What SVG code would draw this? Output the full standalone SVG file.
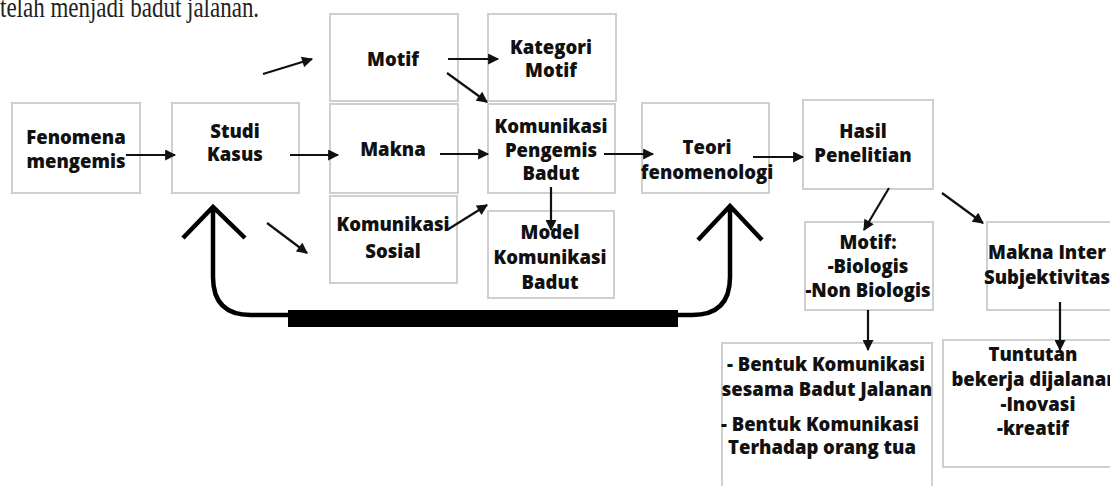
<svg xmlns="http://www.w3.org/2000/svg" width="1110" height="486" viewBox="0 0 1110 486">
  <style>
    .box { fill: #ffffff; stroke: #cfcfcf; stroke-width: 2; }
    .lbl { font-family: "Open Sans", "Liberation Sans", sans-serif; font-weight: 800; font-size: 18.5px; fill: #111; text-anchor: middle; }
    .conn { stroke: #111; stroke-width: 2.2; fill: none; marker-end: url(#ah); }
    .big { stroke: #000; stroke-width: 4.5; fill: none; stroke-linejoin: miter; }
    .head { font-family: "Liberation Serif", "Times New Roman", serif; font-size: 23px; fill: #222; }
  </style>
  <defs>
    <marker id="ah" viewBox="0 0 10 10" refX="9" refY="5" markerWidth="5.5" markerHeight="5" orient="auto" markerUnits="strokeWidth">
      <path d="M0,0 L10,5 L0,10 Z" fill="#111"/>
    </marker>
  </defs>
  <rect width="1110" height="486" fill="#ffffff"/>
  <text class="head" transform="translate(0,17) scale(1,1.3)" x="0" y="0">telah menjadi badut jalanan.</text>

  <g id="fenomena"><rect class="box" x="12" y="103" width="128" height="90"/>
    <text class="lbl" x="76" y="144">Fenomena</text><text class="lbl" x="76" y="168">mengemis</text></g>
  <g id="studi"><rect class="box" x="172" y="103" width="127" height="90"/>
    <text class="lbl" x="235" y="138">Studi</text><text class="lbl" x="235" y="161">Kasus</text></g>
  <g id="motif"><rect class="box" x="330" y="14" width="128" height="87"/>
    <text class="lbl" x="393" y="66">Motif</text></g>
  <g id="makna"><rect class="box" x="330" y="104" width="128" height="89"/>
    <text class="lbl" x="393" y="156">Makna</text></g>
  <g id="komsosial"><rect class="box" x="330" y="196" width="127" height="87"/>
    <text class="lbl" x="393" y="231">Komunikasi</text><text class="lbl" x="393" y="258">Sosial</text></g>
  <g id="kategori"><rect class="box" x="488" y="14" width="128" height="87"/>
    <text class="lbl" x="551" y="54">Kategori</text><text class="lbl" x="551" y="77">Motif</text></g>
  <g id="kpb"><rect class="box" x="488" y="104" width="127" height="89"/>
    <text class="lbl" x="551" y="133">Komunikasi</text><text class="lbl" x="551" y="157">Pengemis</text><text class="lbl" x="551" y="180">Badut</text></g>
  <g id="model"><rect class="box" x="488" y="211" width="126" height="87"/>
    <text class="lbl" x="550" y="239">Model</text><text class="lbl" x="550" y="264">Komunikasi</text><text class="lbl" x="550" y="289">Badut</text></g>
  <g id="teori"><rect class="box" x="642" y="103" width="127" height="90"/>
    <text class="lbl" x="707" y="154">Teori</text><text class="lbl" x="707" y="179">fenomenologi</text></g>
  <g id="hasil"><rect class="box" x="803" y="100" width="130" height="89"/>
    <text class="lbl" x="863" y="138">Hasil</text><text class="lbl" x="863" y="162">Penelitian</text></g>
  <g id="motif2"><rect class="box" x="805" y="222" width="128" height="88"/>
    <text class="lbl" x="868" y="249">Motif:</text><text class="lbl" x="868" y="273">-Biologis</text><text class="lbl" x="868" y="297">-Non Biologis</text></g>
  <g id="maknainter"><rect class="box" x="987" y="222" width="130" height="88"/>
    <text class="lbl" x="1047" y="259">Makna Inter</text><text class="lbl" x="1047" y="284">Subjektivitas</text></g>
  <g id="bentuk"><rect class="box" x="722" y="343" width="210" height="150"/>
    <text class="lbl" x="826" y="371">- Bentuk Komunikasi</text><text class="lbl" x="827" y="396">sesama Badut Jalanan</text>
    <text class="lbl" x="820" y="431">- Bentuk Komunikasi</text><text class="lbl" x="822" y="454">Terhadap orang tua</text></g>
  <g id="tuntutan"><rect class="box" x="943" y="340" width="175" height="127"/>
    <text class="lbl" x="1033" y="361">Tuntutan</text><text class="lbl" x="1035" y="386">bekerja dijalanan</text>
    <text class="lbl" x="1038" y="411">-Inovasi</text><text class="lbl" x="1033" y="435">-kreatif</text></g>

  <g id="connectors">
    <line class="conn" x1="126" y1="155" x2="175" y2="155"/>
    <line class="conn" x1="290" y1="155" x2="338" y2="155"/>
    <line class="conn" x1="263" y1="74" x2="312" y2="59"/>
    <line class="conn" x1="267" y1="223" x2="307" y2="253"/>
    <line class="conn" x1="448" y1="59" x2="498" y2="59"/>
    <line class="conn" x1="447" y1="73" x2="487" y2="102"/>
    <line class="conn" x1="440" y1="154" x2="488" y2="154"/>
    <line class="conn" x1="447" y1="230" x2="487" y2="205"/>
    <line class="conn" x1="551" y1="187" x2="551" y2="230"/>
    <line class="conn" x1="604" y1="154" x2="653" y2="154"/>
    <line class="conn" x1="753" y1="157" x2="803" y2="157"/>
    <line class="conn" x1="889" y1="188" x2="864" y2="230"/>
    <line class="conn" x1="942" y1="193" x2="983" y2="223"/>
    <line class="conn" x1="868" y1="310" x2="868" y2="350"/>
    <line class="conn" x1="1060" y1="302" x2="1060" y2="350"/>
    <path class="big" d="M183,238 L213,207 L245,238 M213,207 V277 Q213,315 251,315 H290"/>
    <path class="big" d="M675,315 H692 Q730,315 730,277 V207 M698,240 L730,206 L762,240"/>
    <rect x="288" y="310" width="390" height="17" fill="#000"/>
  </g>
</svg>
